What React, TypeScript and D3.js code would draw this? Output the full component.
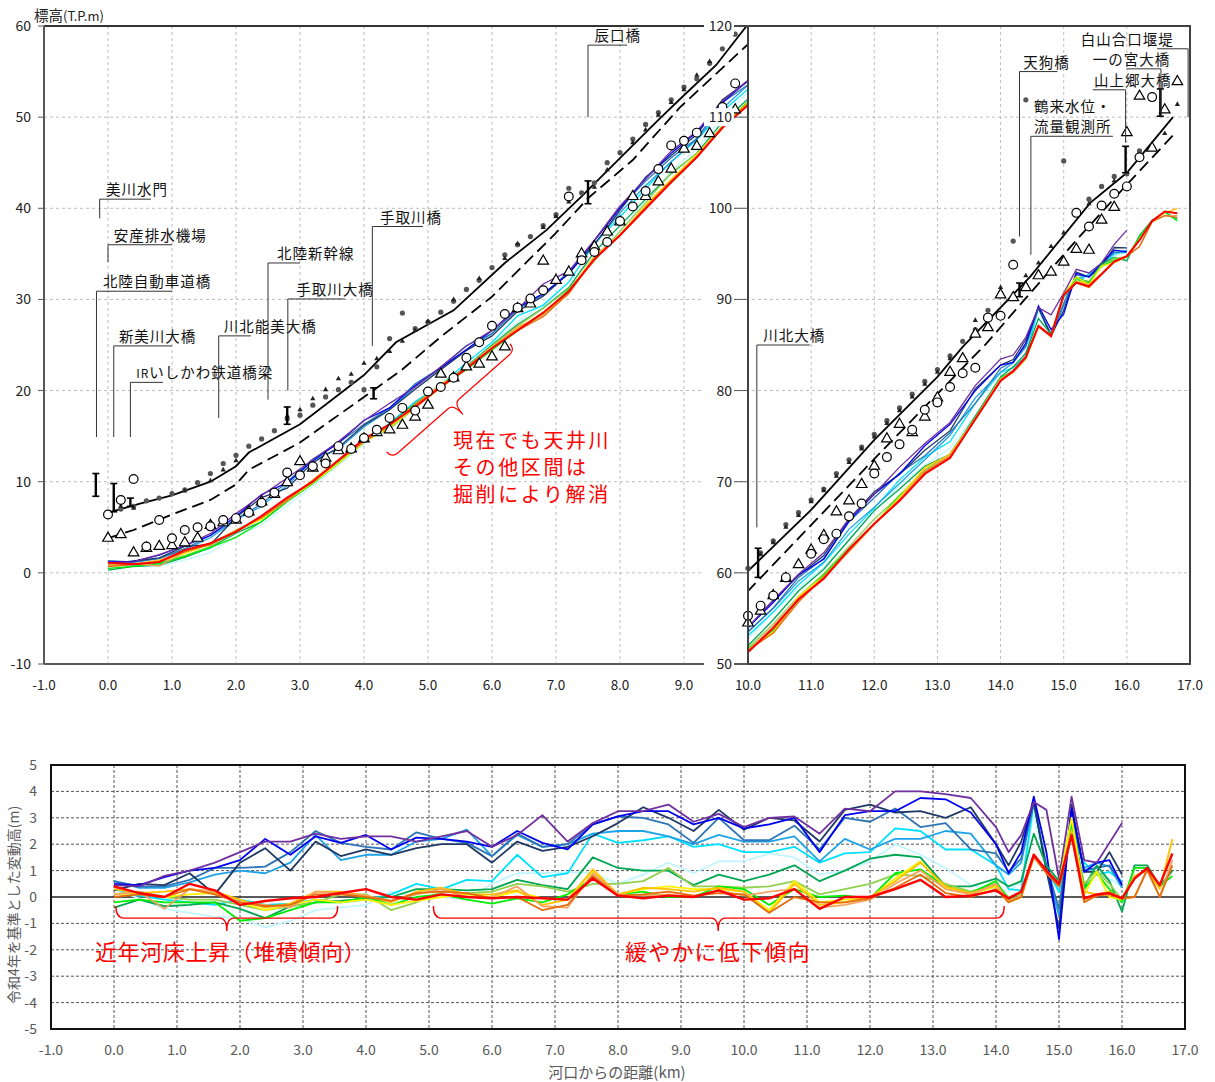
import * as d3 from "d3";

const W = 1215;
const H = 1082;
const N = null;

// distance grid (km) shared by the bed profile and the yearly change series
const KM = [0, 0.4, 0.8, 1.2, 1.6, 2.0, 2.4, 2.8, 3.2, 3.6, 4.0, 4.4, 4.8,
  5.2, 5.6, 6.0, 6.4, 6.8, 7.2, 7.6, 8.0, 8.4, 8.8, 9.2, 9.6, 10.0,
  10.4, 10.8, 11.2, 11.6, 12.0, 12.4, 12.8, 13.2, 13.6, 14.0,
  14.2, 14.4, 14.6, 14.8, 15.0, 15.2, 15.4, 15.6, 15.8, 16.0,
  16.2, 16.4, 16.6, 16.8];

// R4 reference bed (T.P.m)
const BED_R4 = [0.7, 0.8, 1.2, 2.0, 3.0, 4.8, 6.4, 8.3, 10.0, 12.2, 14.4, 16.3, 18.3,
  20.3, 22.4, 24.7, 26.6, 28.6, 31.0, 33.7, 37.0, 40.0, 42.8, 45.6, 48.6, 51.4,
  54.0, 56.8, 59.8, 62.6, 65.4, 67.6, 70.2, 72.6, 76.8, 80.8,
  82.2, 83.5, 85.5, 85.0, 90.0, 89.5, 91.5, 92.7, 94.0, 94.8,
  95.8, 97.5, 99.2, 97.8];

// change vs R4 (m), one array per year line
const D_PURPLE = [0.45, 0.4, 0.8, 1.0, 1.3, 1.7, 2.1, 2.1, 2.4, 2.2, 2.3, 2.3, 2.1,
  2.3, 2.5, 1.9, 2.35, 3.1, 2.1, 2.8, 3.25, 3.25, 3.5, 2.85, 3.15, 2.65,
  3.0, 3.05, 2.4, 3.35, 3.25, 4.0, 4.0, 3.9, 3.75, 2.65,
  1.7, 2.35, 3.6, 3.3, 0.7, 3.8, 1.4, 1.3, 2.05, 2.8,
  N, N, N, N];
const D_BLUE = [0.5, 0.45, 0.75, 1.0, 1.1, 1.4, 2.2, 1.6, 2.3, 2.05, 2.35, 1.8, 2.25,
  2.2, 2.1, 1.9, 2.5, 2.05, 1.8, 2.75, 3.05, 3.25, 3.25, 2.75, 3.0, 2.6,
  2.75, 3.0, 1.7, 3.1, 3.25, 3.25, 3.75, 3.7, 3.2, 2.0,
  0.9, 1.7, 3.8, 1.7, -1.6, 3.35, 0.95, 1.3, 1.4, 0.45,
  N, N, N, N];
const D_NAVY = [0.25, 0.5, 0.45, 0.9, 0.1, 1.3, 1.85, 1.0, 2.1, 1.55, 1.8, 1.6, 1.85,
  2.0, 2.0, 1.3, 2.1, 1.75, 1.9, 2.3, 2.8, 3.4, 3.0, 2.5, 3.3, 2.55,
  3.0, 2.9, 2.1, 3.3, 3.5, 3.2, 3.25, 3.0, 3.4, 2.0,
  1.2, 2.1, 3.6, 1.0, -1.2, 3.5, 0.95, 0.95, 1.7, 0.85,
  N, N, N, N];
const D_STEEL = [0.6, 0.4, 0.4, 0.65, 1.1, 1.1, 1.15, 1.7, 2.5, 2.05, 1.9, 1.8, 2.45,
  2.2, 2.05, 1.55, 2.4, 1.9, 2.0, 2.75, 3.05, 3.0, 2.75, 2.05, 3.0, 2.15,
  2.15, 2.7, 1.8, 3.0, 2.85, 3.35, 2.65, 2.8, 1.8, 1.65,
  0.95, 1.45, 3.55, 1.2, -0.45, 3.2, 1.0, 1.1, 1.2, 0.45,
  N, N, N, N];
const D_SKY = [0.6, 0.35, 0.35, 0.55, 0.85, 1.0, 0.9, 1.3, 2.35, 1.4, 1.6, 1.6, 2.1,
  2.2, 2.55, 1.55, 2.35, 1.9, 2.0, 2.4, 2.5, 2.5, 2.3, 2.0, 2.35, 2.1,
  2.1, 2.3, 1.35, 2.2, 1.8, 2.2, 2.2, 2.5, 2.4, 1.2,
  0.85, 1.3, 3.6, 1.0, -0.7, 2.85, 1.1, 1.3, 1.15, 0.35,
  N, N, N, N];
const D_CYAN = [0.3, 0.05, -0.1, -0.2, -0.3, -0.1, -0.3, -0.25, -0.1, -0.2, -0.1, 0.1, 0.5,
  0.3, 0.65, 0.6, 1.6, 0.75, 0.9, 2.4, 2.05, 2.15, 2.3, 1.9, 2.0, 1.7,
  1.7, 1.9, 1.3, 1.65, 1.7, 2.6, 2.5, 1.8, 1.8, 1.2,
  0.3, 0.25, 3.6, 1.1, 0.2, 2.35, 1.3, 0.85, 0.95, 0.6,
  N, N, N, N];
const D_LCYAN = [0.3, -0.05, -0.45, -0.6, -0.75, -0.8, -1.15, -0.9, -0.5, -0.4, -0.3, 0.2, 0.0,
  0.0, -0.1, 0.5, 0.9, 0.9, 0.95, 0.9, 0.5, 0.85, 1.3, 0.9, 1.35, 1.35,
  1.65, 1.5, 0.85, 1.0, 1.35, 2.0, 1.6, 1.1, 0.45, 0.3,
  0.2, 0.6, 3.2, 1.0, 0.3, 2.6, 1.1, 0.9, 0.7, 0.4,
  N, N, N, N];
const D_DGREEN = [-0.4, -0.1, -0.35, -0.3, -0.2, -0.45, -0.8, -0.35, -0.2, -0.15, -0.05, 0.0, 0.3,
  0.3, 0.25, 0.3, 0.65, 0.45, 0.3, 1.5, 1.1, 1.0, 1.0, 0.45, 0.85, 0.6,
  0.85, 1.2, 0.6, 1.0, 1.45, 1.6, 1.5, 0.4, 0.4, 0.7,
  0.4, 0.6, 2.4, 1.2, 0.6, 2.9, 0.4, 1.2, 0.6, -0.55,
  1.2, 1.2, 0.4, 1.0];
const D_YGREEN = [0.1, 0.2, 0.0, -0.1, -0.1, -0.3, -0.5, -0.35, -0.2, 0.1, 0.1, -0.5, -0.2,
  0.2, 0.15, 0.2, 0.5, 0.4, 0.2, 0.5, 0.5, 0.6, 1.1, 0.4, 0.4, 0.35,
  0.4, 0.6, 0.1, 0.3, 0.5, 0.85, 0.8, 0.5, 0.2, 0.5,
  0.0, 0.1, 1.5, 1.0, 0.4, 2.5, 0.5, 1.0, 0.5, -0.1,
  N, N, N, N];
const D_GREEN = [-0.2, -0.1, -0.2, -0.2, -0.2, -0.9, -0.8, -0.5, -0.2, -0.2, 0.0, -0.3, 0.0,
  0.1, -0.1, -0.25, -0.05, -0.2, 0.1, 0.7, 0.1, 0.2, 0.0, 0.0, 0.4, 0.3,
  -0.3, 0.3, 0.0, 0.05, -0.05, 0.9, 1.05, 0.4, 0.15, 0.6,
  -0.1, 0.2, 1.6, 1.0, 0.5, 2.8, 0.3, 0.9, 0.3, -0.2,
  1.1, 1.1, 0.4, 0.8];
const D_YELLOW = [0.1, 0.15, 0.0, 0.1, 0.15, -0.2, -0.5, -0.3, -0.1, -0.2, -0.1, -0.3, -0.15,
  0.0, 0.1, 0.0, 0.2, -0.05, -0.1, 1.0, 0.1, 0.3, 0.4, 0.3, 0.3, 0.2,
  -0.5, 0.6, -0.2, -0.1, -0.05, 0.7, 1.35, 0.35, 0.1, 0.4,
  -0.2, 0.0, 1.6, 1.0, 0.5, 3.0, 0.1, 0.95, 0.0, -0.1,
  N, N, N, N];
const D_GOLD = [0.3, 0.15, 0.2, 0.3, 0.2, -0.1, -0.4, -0.25, 0.2, 0.2, 0.05, -0.2, 0.2,
  0.35, 0.1, 0.1, 0.25, -0.3, -0.1, 1.05, 0.1, 0.35, 0.3, 0.2, 0.35, 0.2,
  -0.6, 0.5, -0.3, -0.2, 0.0, 0.6, 1.3, 0.4, 0.15, 0.45,
  -0.2, 0.0, 1.6, 1.0, 0.5, 2.5, 0.2, 0.1, 0.2, -0.05,
  0.8, 1.0, 0.3, 2.2];
const D_ORANGE = [0.1, 0.2, -0.45, 0.3, 0.2, -0.2, -0.3, -0.4, 0.2, 0.15, 0.05, -0.15, 0.1,
  0.3, 0.0, 0.0, 0.4, -0.35, -0.4, 0.9, 0.1, 0.05, 0.1, 0.0, 0.25, 0.05,
  0.2, 0.3, -0.4, -0.3, -0.1, 0.5, 1.0, 0.3, 0.1, 0.5,
  -0.15, 0.05, 1.5, 0.9, 0.5, 2.4, -0.15, 0.05, 0.15, -0.05,
  0.0, 1.0, 0.0, 1.4];
const D_DORANGE = [0.0, 0.1, 0.0, 0.3, 0.1, -0.2, -0.35, -0.3, 0.1, 0.1, 0.0, -0.15, 0.15,
  0.2, 0.15, -0.05, 0.0, -0.5, -0.3, 0.8, 0.05, 0.1, 0.2, 0.05, 0.15, 0.1,
  -0.6, 0.0, -0.2, -0.2, -0.05, 0.35, 0.85, 0.15, 0.0, 0.3,
  -0.2, 0.0, 1.55, 0.9, 0.4, 2.3, -0.2, 0.05, 0.1, -0.05,
  0.0, 1.05, 0.0, 1.2];
const D_RED = [0.4, 0.15, 0.0, 0.5, 0.25, -0.3, -0.15, -0.05, 0.0, 0.15, 0.3, 0.0, -0.1,
  0.1, 0.0, -0.05, 0.0, -0.05, -0.1, 0.7, 0.05, -0.05, 0.05, 0.0, 0.25, -0.1,
  -0.05, 0.3, -0.45, 0.0, 0.0, 0.3, 0.65, 0.0, 0.05, 0.25,
  -0.05, 0.2, 1.6, 1.0, 0.5, 2.35, -0.05, 0.1, 0.15, -0.05,
  0.7, 1.1, 0.45, 1.65];

const DIFFS = [D_LCYAN, D_CYAN, D_SKY, D_STEEL, D_NAVY, D_BLUE, D_PURPLE,
  D_DGREEN, D_YGREEN, D_GREEN, D_YELLOW, D_GOLD, D_ORANGE, D_DORANGE, D_RED];
const LINE_COLORS = ["#c2f6ff", "#00e1ff", "#1fa3e8", "#2e75b6", "#1f3864", "#0000f0", "#7030a0",
  "#00a651", "#92d050", "#00ee00", "#fff200", "#ffc000", "#f4a460", "#e46c0a", "#ff0000"];

// plan levee (solid) and HWL (dashed)
const SOLID_KM = [0, 0.5, 1.0, 1.6, 2.0, 2.2, 3.0, 3.5, 4.0, 4.5, 5.4, 6.2, 6.85, 7.4, 8.0, 8.6, 9.0, 9.5, 10.0,
  11.0, 12.0, 13.0, 13.4, 14.47, 15.42, 16.0, 16.73];
const SOLID_EL = [6.6, 7.6, 8.5, 10.0, 11.7, 13.2, 16.3, 19.0, 21.7, 25.3, 28.8, 34.0, 37.6, 41.3, 45.5, 49.7, 52.4, 55.7, 60.2,
  66.9, 74.6, 81.5, 84.8, 92.5, 100.6, 103.9, 110.0];
const DASH_KM = [0, 0.4, 1.0, 1.6, 2.0, 2.2, 3.0, 4.0, 4.56, 5.2, 6.0, 7.0, 7.5, 8.2, 8.94, 10.0,
  12.0, 13.78, 15.2, 16.0, 16.73];
const DASH_EL = [3.8, 4.7, 6.4, 8.0, 9.7, 11.3, 14.3, 19.3, 22.1, 25.9, 30.3, 37.3, 41.1, 45.3, 51.1, 58.0,
  72.5, 85.2, 96.5, 102.6, 108.0];

// open circles
const CIR_KM = [0.0, 0.2, 0.4, 0.6, 0.8, 1.0, 1.2, 1.4, 1.6, 1.8, 2.0, 2.2, 2.4, 2.6, 2.8, 3.0, 3.2, 3.4, 3.6, 3.8,
  4.0, 4.2, 4.4, 4.6, 4.8, 5.0, 5.2, 5.4, 5.6, 5.8, 6.0, 6.2, 6.4, 6.6, 6.8, 7.2, 7.4, 7.6, 7.8,
  8.0, 8.2, 8.4, 8.6, 8.8, 9.0, 9.2, 9.4, 9.6, 9.8,
  10.0, 10.2, 10.4, 10.6, 11.0, 11.2, 11.4, 11.6, 11.8, 12.0, 12.2, 12.4, 12.6, 12.8, 13.0, 13.2, 13.4, 13.6,
  13.8, 14.0, 14.2, 15.2, 15.4, 15.6, 15.8, 16.0, 16.2, 16.4];
const CIR_EL = [6.4, 8.0, 10.3, 2.9, 5.8, 3.8, 4.7, 5.0, 5.1, 5.8, 6.0, 6.6, 7.7, 8.8, 11.0, 10.7, 11.7, 12.0, 13.9, 13.6,
  14.8, 15.7, 17.0, 18.1, 17.8, 19.9, 20.4, 21.4, 23.6, 25.3, 27.1, 28.4, 29.1, 30.1, 31.0, 41.3, 34.3, 35.2, 36.3,
  38.6, 40.2, 41.9, 44.3, 46.9, 47.4, 48.3, 49.8, 51.1, 53.7,
  55.3, 56.4, 57.5, 59.5, 62.1, 63.7, 64.3, 66.2, 67.6, 70.9, 72.7, 74.1, 75.7, 77.9, 78.7, 80.4, 81.9, 82.5,
  88.0, 88.2, 93.8, 99.5, 98.0, 100.3, 101.6, 102.4, 105.6, 112.2];

// open triangles
const TRI_KM = [0.0, 0.2, 0.4, 0.6, 0.8, 1.0, 1.2, 1.4, 1.6, 1.8, 2.0, 2.2, 2.4, 2.6, 2.8, 3.0, 3.2, 3.4, 3.6, 3.8,
  4.0, 4.2, 4.4, 4.6, 4.8, 5.0, 5.2, 5.4, 5.6, 5.8, 6.0, 6.2, 6.4, 6.6, 6.8, 7.0, 7.2, 7.4, 7.6, 7.8,
  8.0, 8.2, 8.4, 8.6, 8.8, 9.0, 9.2, 9.4, 9.8,
  10.0, 10.2, 10.4, 10.6, 10.8, 11.0, 11.2, 11.4, 11.6, 11.8, 12.0, 12.2, 12.4, 12.6, 12.8, 13.0, 13.2, 13.4, 13.6,
  13.8, 14.0, 14.2, 14.4, 14.6, 14.8, 15.0, 15.2, 15.4, 15.6, 15.8, 16.0, 16.2, 16.4, 16.6, 16.8];
const TRI_EL = [3.8, 4.2, 2.2, 2.7, 2.9, 3.0, 3.3, 3.8, 5.2, 5.5, 5.8, 6.7, 7.8, 8.6, 9.9, 12.2, 11.5, 12.6, 13.4, 13.6,
  14.7, 15.4, 15.7, 16.2, 17.1, 18.4, 21.8, 21.4, 22.6, 22.9, 23.7, 24.8, 29.0, 29.5, 34.2, 32.1, 33.0, 35.0, 35.8, 37.4,
  38.5, 41.3, 41.3, 42.9, 44.3, 46.5, 46.8, 48.2, 50.8,
  54.5, 55.8, 57.5, 59.4, 60.9, 62.5, 64.1, 66.7, 67.9, 69.7, 71.7, 74.7, 76.3, 75.4, 77.1, 79.2, 82.0, 83.5, 86.2,
  86.9, 90.5, 90.2, 91.3, 92.6, 93.0, 94.1, 95.5, 95.4, 98.7, 100.1, 108.3, 112.3, 106.6, 110.8, 113.9];

// small grey dots
const DOT_KM = [0.2, 0.4, 0.6, 0.8, 1.0, 1.2, 1.4, 1.6, 1.8, 2.0, 2.2, 2.4, 2.6, 2.8, 3.0, 3.2, 3.4, 3.6, 3.8,
  4.0, 4.2, 4.4, 4.6, 4.8, 5.0, 5.2, 5.4, 5.6, 5.8, 6.0, 6.2, 6.4, 6.6, 6.8, 7.0, 7.2, 7.4, 7.6, 7.8,
  8.0, 8.2, 8.4, 8.6, 8.8, 9.0, 9.2, 9.4, 9.6, 9.8,
  10.0, 10.2, 10.4, 10.6, 10.8, 11.0, 11.2, 11.4, 11.6, 11.8, 12.0, 12.2, 12.4, 12.6, 12.8, 13.0, 13.2, 13.4,
  13.6, 13.8, 14.0, 14.2, 14.4, 15.0, 15.4, 15.6, 15.8, 16.0, 16.2];
const DOT_EL = [7.0, 7.3, 7.9, 8.2, 8.7, 9.1, 9.9, 10.9, 12.0, 12.9, 13.9, 14.7, 15.6, 16.9, 17.3, 18.4, 19.3, 20.1, 20.9,
  20.1, 22.6, 25.7, 28.5, 26.8, 27.5, 28.6, 29.8, 31.1, 32.1, 33.5, 34.9, 36.0, 36.9, 38.1, 39.3, 42.2, 41.7, 42.8, 45.0,
  46.1, 47.6, 49.2, 50.5, 51.9, 53.3, 54.2, 55.9, 57.5, 59.1,
  60.5, 62.2, 63.5, 65.3, 66.6, 68.0, 69.2, 70.9, 72.4, 73.8, 75.2, 76.7, 78.1, 79.6, 81.0, 82.3, 83.8, 85.4,
  86.7, 88.8, 90.7, 96.4, 111.9, 105.2, 101.0, 102.4, 103.5, 103.8, 106.3];

// small filled triangles
const STRI_KM = [0.2, 0.4, 1.2, 1.6, 1.8, 2.0, 2.8, 3.0, 3.2, 3.4, 3.6, 3.8, 4.0, 4.2, 4.4, 4.6, 4.8, 5.0, 5.4, 5.8,
  6.2, 6.4, 6.8, 7.0, 7.2, 7.6, 7.8, 8.2, 8.4, 8.6, 8.8, 9.0, 9.2, 9.4,
  10.2, 10.4, 10.6, 10.8, 11.0, 11.2, 11.4, 11.6, 11.8, 12.0, 12.2, 12.4, 12.6, 12.8, 13.0, 13.2,
  13.6, 14.0, 14.4, 14.6, 14.8, 15.0, 15.4, 15.8, 16.2, 16.6, 16.8];
const STRI_EL = [7.3, 7.1, 9.0, 10.1, 11.3, 12.3, 17.2, 17.9, 19.1, 20.1, 21.3, 21.8, 23.0, 23.5, 24.3, 25.4, 26.6, 27.6, 30.0, 32.3,
  34.5, 36.1, 37.9, 39.1, 40.7, 42.3, 44.2, 47.2, 48.6, 50.2, 51.6, 53.0, 54.6, 56.1,
  62.0, 63.3, 65.0, 66.3, 67.8, 69.0, 70.6, 72.1, 73.6, 74.9, 76.4, 77.8, 79.3, 80.7, 82.0, 83.5,
  87.7, 91.3, 92.6, 94.0, 95.8, 97.3, 100.5, 103.0, 105.8, 108.2, 111.4];

// vertical range bars
const BAR_KM = [-0.19, 0.09, 0.35, 2.8, 4.15, 7.5, 10.16, 14.3, 15.98, 16.53];
const BAR_LO = [8.4, 6.7, 7.3, 16.3, 19.1, 40.5, 59.5, 90.3, 103.9, 110.1];
const BAR_HI = [10.9, 9.8, 8.2, 18.2, 20.3, 43.0, 62.7, 91.8, 106.8, 113.1];

// structures: leader at km from bot to top elevation, shelf to hEnd, label at tx
const BRIDGES = [
  { name: ["美川水門"], km: -0.13, top: 41.0, bot: 38.9, hEnd: 0.67, tx: -0.03 },
  { name: ["安産排水機場"], km: 0.0, top: 36.0, bot: 34.1, hEnd: 1.0, tx: 0.09 },
  { name: ["北陸自動車道橋"], km: -0.18, top: 30.9, bot: 14.9, hEnd: 1.0, tx: -0.08 },
  { name: ["新美川大橋"], km: 0.09, top: 24.9, bot: 14.9, hEnd: 1.0, tx: 0.17 },
  { name: ["IRいしかわ鉄道橋梁"], km: 0.35, top: 20.9, bot: 14.9, hEnd: 0.86, tx: 0.44 },
  { name: ["川北能美大橋"], km: 1.73, top: 26.0, bot: 17.0, hEnd: 2.23, tx: 1.81 },
  { name: ["北陸新幹線"], km: 2.5, top: 34.0, bot: 19.0, hEnd: 3.0, tx: 2.64 },
  { name: ["手取川大橋"], km: 2.81, top: 30.05, bot: 20.0, hEnd: 3.7, tx: 2.94 },
  { name: ["手取川橋"], km: 4.13, top: 38.0, bot: 24.9, hEnd: 4.92, tx: 4.25 },
  { name: ["辰口橋"], km: 7.5, top: 57.9, bot: 50.0, hEnd: 8.11, tx: 7.6 },
  { name: ["川北大橋"], km: 10.14, top: 85.0, bot: 65.0, hEnd: 10.98, tx: 10.24 },
  { name: ["天狗橋"], km: 14.3, top: 115.0, bot: 96.9, hEnd: 14.9, tx: 14.36 },
  { name: ["鶴来水位・", "流量観測所"], km: 14.48, top: 107.9, bot: 94.9, hEnd: 15.78, tx: 14.53 },
  { name: ["山上郷大橋"], km: 15.98, top: 113.0, bot: 107.2, hEnd: 15.46, tx: 15.48 },
  { name: ["一の宮大橋"], km: 16.54, top: 115.3, bot: 110.0, hEnd: 16.0, tx: 15.46 },
  { name: ["白山合口堰堤"], km: 16.97, top: 117.5, bot: 110.0, hEnd: 16.48, tx: 15.27 },
];

const NOTE_TOP = ["現在でも天井川", "その他区間は", "掘削により解消"];

const TOP_Y_LEFT = [-10, 0, 10, 20, 30, 40, 50, 60];
const TOP_Y_RIGHT = [50, 60, 70, 80, 90, 100, 110, 120];
const X_LEFT = [-1, 0, 1, 2, 3, 4, 5, 6, 7, 8, 9];
const X_RIGHT = [10, 11, 12, 13, 14, 15, 16, 17];
const X_BOTTOM = d3.range(-1, 17.5, 1);
const Y_BOTTOM = [5, 4, 3, 2, 1, 0, -1, -2, -3, -4, -5];

const FONT = "'Noto Sans CJK JP', 'Noto Sans', sans-serif";

const xL = d3.scaleLinear().domain([-1, 10]).range([44, 748]);
const yL = d3.scaleLinear().domain([-10, 60]).range([664, 26]);
const xR = d3.scaleLinear().domain([10, 17]).range([748, 1190]);
const yR = d3.scaleLinear().domain([50, 120]).range([664, 26]);
const xB = d3.scaleLinear().domain([-1, 17]).range([51, 1185]);
const yB = d3.scaleLinear().domain([-5, 5]).range([1029, 765]);

type Pt = [number, number | null];

const mkLine = (xs: any, ys: any) =>
  d3.line<Pt>().defined((d) => d[1] != null).x((d) => xs(d[0])).y((d) => ys(d[1] as number));

const triBig = d3.symbol().type(d3.symbolTriangle).size(48)() as string;
const triSmall = d3.symbol().type(d3.symbolTriangle).size(12)() as string;

// curly brace drawn in a local frame along x
const bracePath = (len: number, tipAt: number, curl: number, tip: number) =>
  `M0,${-curl} Q0,0 8,0 L${tipAt - 7},0 Q${tipAt},0 ${tipAt},${tip} Q${tipAt},0 ${tipAt + 7},0 L${len - 8},0 Q${len},0 ${len},${-curl}`;

function Panel({ side }: { side: "L" | "R" }) {
  const xs = side === "L" ? xL : xR;
  const ys = side === "L" ? yL : yR;
  const inPanel = (k: number) => (side === "L" ? k < 10 : k >= 10);
  const line = mkLine(xs, ys);
  return (
    <g>
      <g clipPath={`url(#clip${side})`}>
        {DIFFS.map((d, j) => (
          <path
            key={j}
            d={line(KM.map((k, i) => [k, d[i] == null ? null : BED_R4[i] + (d[i] as number)]))!}
            fill="none"
            stroke={LINE_COLORS[j]}
            strokeWidth={j === DIFFS.length - 1 ? 2 : 1.3}
          />
        ))}
        <path d={line(SOLID_KM.map((k, i) => [k, SOLID_EL[i]]))!} fill="none" stroke="#000" strokeWidth={1.8} />
        <path d={line(DASH_KM.map((k, i) => [k, DASH_EL[i]]))!} fill="none" stroke="#000" strokeWidth={1.8}
          strokeDasharray="12,6" />
      </g>
      {DOT_KM.map((k, i) => inPanel(k) && (
        <circle key={"d" + i} cx={xs(k)} cy={ys(DOT_EL[i])} r={2.6} fill="#555" />
      ))}
      {STRI_KM.map((k, i) => inPanel(k) && (
        <path key={"s" + i} d={triSmall} transform={`translate(${xs(k)},${ys(STRI_EL[i])})`} fill="#222" />
      ))}
      {TRI_KM.map((k, i) => inPanel(k) && (
        <path key={"t" + i} d={triBig} transform={`translate(${xs(k)},${ys(TRI_EL[i])})`}
          fill="#fff" stroke="#000" strokeWidth={1.2} />
      ))}
      {CIR_KM.map((k, i) => inPanel(k) && (
        <circle key={"c" + i} cx={xs(k)} cy={ys(CIR_EL[i])} r={4.4} fill="#fff" stroke="#000" strokeWidth={1.2} />
      ))}
      {BAR_KM.map((k, i) => inPanel(k) && (
        <g key={"b" + i} stroke="#000" strokeWidth={2.4}>
          <line x1={xs(k)} x2={xs(k)} y1={ys(BAR_LO[i])} y2={ys(BAR_HI[i])} />
          <line x1={xs(k) - 3.5} x2={xs(k) + 3.5} y1={ys(BAR_LO[i])} y2={ys(BAR_LO[i])} strokeWidth={1.6} />
          <line x1={xs(k) - 3.5} x2={xs(k) + 3.5} y1={ys(BAR_HI[i])} y2={ys(BAR_HI[i])} strokeWidth={1.6} />
        </g>
      ))}
    </g>
  );
}

export default function App() {
  const lineB = mkLine(xB, yB);
  const gridTop = "#bdbdbd";
  return (
    <svg width={W} height={H} style={{ position: "absolute", left: 0, top: 0, background: "#fff" }}
      fontFamily={FONT}>
      <defs>
        <clipPath id="clipL"><rect x={44} y={26} width={704} height={638} /></clipPath>
        <clipPath id="clipR"><rect x={748} y={26} width={442} height={638} /></clipPath>
        <clipPath id="clipB"><rect x={51} y={765} width={1134} height={264} /></clipPath>
      </defs>

      {/* top chart grid */}
      <g stroke={gridTop} strokeWidth={1} strokeDasharray="3,3">
        {X_LEFT.slice(1).map((k) => <line key={"gl" + k} x1={xL(k)} x2={xL(k)} y1={26} y2={664} />)}
        {X_RIGHT.slice(1, -1).map((k) => <line key={"gr" + k} x1={xR(k)} x2={xR(k)} y1={26} y2={664} />)}
        {TOP_Y_LEFT.slice(1, -1).map((v) => <line key={"hl" + v} x1={44} x2={1190} y1={yL(v)} y2={yL(v)} />)}
      </g>

      <Panel side="L" />
      <Panel side="R" />

      <line x1={44} x2={748} y1={26} y2={26} stroke="#333" strokeWidth={2} />
      <line x1={44} x2={44} y1={26} y2={664} stroke="#595959" strokeWidth={2} />
      <line x1={44} x2={748} y1={664} y2={664} stroke="#595959" strokeWidth={2} />
      <rect x={748} y={26} width={442} height={638} fill="none" stroke="#404040" strokeWidth={2} />

      {TOP_Y_LEFT.map((v) => (
        <g key={"yl" + v}>
          <line x1={38} x2={44} y1={yL(v)} y2={yL(v)} stroke="#595959" />
          <text x={31} y={yL(v) + 5} textAnchor="end" fontSize={14} fill="#222">{v}</text>
        </g>
      ))}
      {/* right panel y axis; its labels sit inside the left panel on white */}
      {TOP_Y_RIGHT.map((v) => (
        <g key={"yr" + v}>
          <rect x={704} y={yR(v) - 9} width={30} height={18} fill="#fff" />
          <line x1={734} x2={748} y1={yR(v)} y2={yR(v)} stroke="#595959" />
          <text x={732} y={yR(v) + 5} textAnchor="end" fontSize={14} fill="#222">{v}</text>
        </g>
      ))}
      {X_LEFT.map((k) => (
        <text key={"xl" + k} x={xL(k)} y={690} textAnchor="middle" fontSize={13.5} fill="#222">{k.toFixed(1)}</text>
      ))}
      {X_RIGHT.map((k) => (
        <text key={"xr" + k} x={xR(k)} y={690} textAnchor="middle" fontSize={13.5} fill="#222">{k.toFixed(1)}</text>
      ))}
      <text x={34} y={21} fontSize={14.5} fill="#222">標高<tspan fontSize={13}>(T.P.m)</tspan></text>

      {BRIDGES.map((b, i) => {
        const xs = b.km >= 10 ? xR : xL;
        const ys = b.km >= 10 ? yR : yL;
        const yTop = ys(b.top);
        return (
          <g key={"br" + i}>
            <path d={`M${xs(b.km)},${ys(b.bot)} V${yTop} H${xs(b.hEnd)}`} fill="none" stroke="#333" strokeWidth={1} />
            <text x={xs(b.tx)} y={yTop - 4 - (b.name.length - 1) * 20} fontSize={14.5} letterSpacing={1} fill="#111">
              {b.name.map((s, j) => (
                <tspan key={j} x={xs(b.tx)} dy={j === 0 ? 0 : 20}>
                  {s.startsWith("IR") ? (<><tspan fontSize={12}>IR</tspan>{s.slice(2)}</>) : s}
                </tspan>
              ))}
            </text>
          </g>
        );
      })}

      {/* red note, top */}
      <path d={bracePath(164, 82, 8, 14)} transform="translate(392,458) rotate(-41.3)" fill="none"
        stroke="#ff0000" strokeWidth={1.2} />
      <text x={453} y={448} fontSize={20} letterSpacing={2.6} fill="#ff0000">
        {NOTE_TOP.map((s, i) => (
          <tspan key={i} x={453} dy={i === 0 ? 0 : 27}>{s}</tspan>
        ))}
      </text>

      {/* bottom chart */}
      <g stroke="#555" strokeWidth={1} strokeDasharray="3,2">
        {X_BOTTOM.slice(1, -1).map((k) => <line key={"bv" + k} x1={xB(k)} x2={xB(k)} y1={765} y2={1029} />)}
        {Y_BOTTOM.slice(1, -1).filter((v) => v !== 0).map((v) => (
          <line key={"bh" + v} x1={51} x2={1185} y1={yB(v)} y2={yB(v)} />
        ))}
      </g>
      <line x1={51} x2={1185} y1={yB(0)} y2={yB(0)} stroke="#222" strokeWidth={1.5} />
      <g clipPath="url(#clipB)">
        {DIFFS.map((d, j) => (
          <path key={"bl" + j} d={lineB(KM.map((k, i) => [k, d[i]]))!} fill="none" stroke={LINE_COLORS[j]}
            strokeWidth={j === DIFFS.length - 1 ? 2.4 : 1.8} strokeLinejoin="round" />
        ))}
      </g>
      <rect x={51} y={765} width={1134} height={264} fill="none" stroke="#111" strokeWidth={2} />
      {Y_BOTTOM.map((v) => (
        <text key={"by" + v} x={37} y={yB(v) + 5} textAnchor="end" fontSize={14} fill="#595959">{v}</text>
      ))}
      {X_BOTTOM.map((k) => (
        <text key={"bx" + k} x={xB(k)} y={1055} textAnchor="middle" fontSize={14} fill="#595959">{k.toFixed(1)}</text>
      ))}
      <text transform={`translate(19,${yB(-0.3)}) rotate(-90)`} textAnchor="middle" fontSize={14} fill="#595959">
        令和4年を基準とした変動高(m)
      </text>
      <text x={617} y={1078} textAnchor="middle" fontSize={15} fill="#595959">河口からの距離(km)</text>

      <path d={bracePath(xB(3.55) - xB(0.03), xB(1.79) - xB(0.03), 12, 13)}
        transform={`translate(${xB(0.03)},${yB(-0.8)})`} fill="none" stroke="#ff0000" strokeWidth={1.4} />
      <path d={bracePath(xB(14.13) - xB(5.07), xB(9.59) - xB(5.07), 12, 13)}
        transform={`translate(${xB(5.07)},${yB(-0.8)})`} fill="none" stroke="#ff0000" strokeWidth={1.4} />
      <text x={95} y={960} fontSize={22} letterSpacing={0.6} fill="#ff0000">近年河床上昇（堆積傾向）</text>
      <text x={625} y={960} fontSize={22} letterSpacing={1.2} fill="#ff0000">緩やかに低下傾向</text>
    </svg>
  );
}
